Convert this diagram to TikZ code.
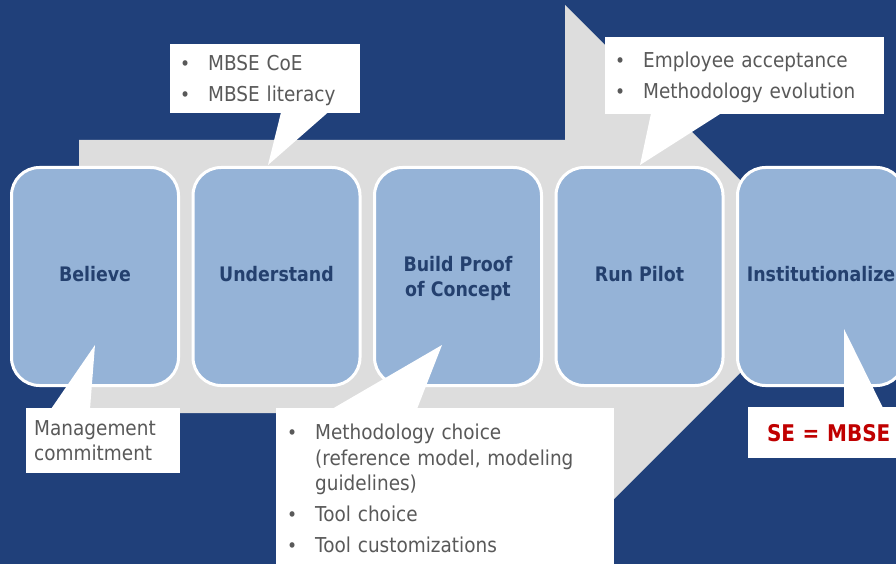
\documentclass[tikz,border=0pt]{standalone}
\usepackage{fontspec}
\setmainfont{DejaVu Sans}[FakeStretch=0.9]
\newfontfamily\stepfont{DejaVu Sans}[FakeStretch=0.87]
\usetikzlibrary{positioning}

\definecolor{bgblue}{RGB}{32,64,122}
\definecolor{arrowgray}{RGB}{221,221,221}
\definecolor{stepblue}{RGB}{149,179,215}
\definecolor{steptext}{RGB}{36,64,110}
\definecolor{notegray}{RGB}{89,89,89}
\definecolor{notered}{RGB}{192,0,0}

\newcommand{\itm}{\makebox[28pt][l]{\fontsize{19}{19}\selectfont•}}
\newcommand{\notelist}[1]{\noindent\raisebox{-2.5pt}[\height][\depth]{\begin{tabular}{@{}l@{}l@{}}#1\end{tabular}}}

\tikzset{
	stepbox/.style = {draw=white, line width=3pt, fill=stepblue, rounded corners=28pt, minimum width=167pt, minimum height=218pt, text=steptext, font=\stepfont\bfseries\fontsize{20}{25}\selectfont, align=center, text depth=5pt},
	note/.style = {fill=white, text=notegray, font=\fontsize{20.5}{25.5}\selectfont, anchor=north west, inner xsep=10pt, inner ysep=0pt},
	pointer/.style = {fill=white}
}

\begin{document}
\begin{tikzpicture}[x=1pt, y=-1pt]
%		\draw (0,0) grid (896,564);
		\useasboundingbox (0,0) rectangle (896,564);
		\clip (0,0) rectangle (896,564);
		\fill[bgblue] (0,0) rectangle (896,564);
		
		% big gray arrow
		\fill[arrowgray] (79,140) -- (565,140) -- (565,5) -- (836.5,276.5) -- (565,548) -- (565,413) -- (79,413) -- cycle;
		
		% steps
		\node[stepbox] (believe) at (95,276.5) {Believe};
		\node[stepbox, right=11.5pt of believe] (understand) {Understand};
		\node[stepbox, right=11.5pt of understand, text depth=0pt] (proof) {Build Proof\\of Concept};
		\node[stepbox, right=11.5pt of proof] (pilot) {Run Pilot};
		\node[stepbox, right=11.5pt of pilot] (institute) {Institutionalize};
		
		% callouts
		\node[note, text width=170pt, minimum height=69pt] (cCoE) at (170,44) {\notelist{\itm & MBSE CoE\\[5.5pt] \itm & MBSE literacy}};
		\node[note, text width=259pt, minimum height=77pt] (cPilot) at (605,37) {\notelist{\itm & Employee acceptance\\[5.5pt] \itm & Methodology evolution}};
		\node[note, inner xsep=8pt, text width=138pt, minimum height=65pt, align=left] (cMgmt) at (26,408) {Management\\commitment};
		\node[note, inner xsep=11pt, text width=316pt, minimum height=161pt] (cPoC) at (276,408) {\notelist{\itm & Methodology choice\\ & (reference model, modeling\\ & guidelines)\\[5.5pt] \itm & Tool choice\\[5.5pt] \itm & Tool customizations}};
		\node[note, text width=141pt, minimum height=51pt, align=center, text=notered, font=\stepfont\bfseries\fontsize{23}{26}\selectfont] (cSE) at (748,407) {SE = MBSE};
		
		\coordinate (tCoE) at (268,165);
		\coordinate (tPilot) at (640,165);
		\coordinate (tMgmt) at (95,345);
		\coordinate (tPoC) at (442,345);
		\coordinate (tSE) at (844,329);
		
		\fill[pointer] ([xshift=111pt, yshift=1pt]cCoE.south west) -- (tCoE) -- ([xshift=158pt, yshift=1pt]cCoE.south west) -- cycle;
		\fill[pointer] ([xshift=46pt, yshift=1pt]cPilot.south west) -- (tPilot) -- ([xshift=116pt, yshift=1pt]cPilot.south west) -- cycle;
		\fill[pointer] ([xshift=25pt, yshift=-1pt]cMgmt.north west) -- (tMgmt) -- ([xshift=64pt, yshift=-1pt]cMgmt.north west) -- cycle;
		\fill[pointer] ([xshift=56pt, yshift=-1pt]cPoC.north west) -- (tPoC) -- ([xshift=141pt, yshift=-1pt]cPoC.north west) -- cycle;
		\fill[pointer] ([xshift=96pt, yshift=-1pt]cSE.north west) -- (tSE) -- ([xshift=135pt, yshift=-1pt]cSE.north west) -- cycle;
	\end{tikzpicture}
\end{document}
